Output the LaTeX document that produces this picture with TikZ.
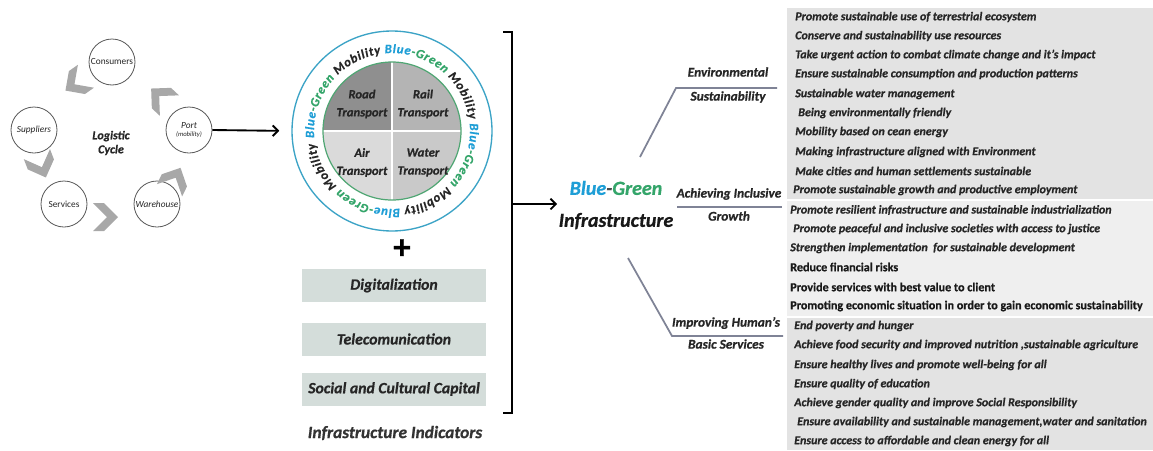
\documentclass[tikz,border=0pt]{standalone}
\usepackage{fontspec}
\setmainfont{Carlito}[BoldFeatures={FakeBold=0.7}, BoldItalicFeatures={FakeBold=0.7}]
\usetikzlibrary{decorations.text,arrows.meta}
\definecolor{bgblue}{HTML}{1E9ED6}
\definecolor{bggreen}{HTML}{34A56A}
\definecolor{ringblue}{HTML}{3BA3C6}
\definecolor{innergreen}{HTML}{4FA673}
\definecolor{qTL}{HTML}{8F8F8F}
\definecolor{qTR}{HTML}{B4B4B4}
\definecolor{qBL}{HTML}{DADADA}
\definecolor{qBR}{HTML}{C9C9C9}
\definecolor{indfill}{HTML}{D4DDDA}
\definecolor{branchgray}{HTML}{7F8396}
\definecolor{listA}{HTML}{E3E3E3}
\definecolor{listB}{HTML}{EFEFEF}
\definecolor{chevgray}{HTML}{A8A8A8}
\newcommand\ringfont{\fontsize{9.5}{9.5}\selectfont\bfseries\itshape}
\tikzset{
  cyc/.style={circle, draw=black!65, line width=0.6pt, fill=white, minimum size=34.5pt, inner sep=0pt, align=center, text=black!85, font=\fontsize{7}{7}\selectfont},
  arr/.style={line width=1.4pt, -{Straight Barb[length=4pt,width=8pt]}},
  branch/.style={draw=branchgray, line width=1.3pt},
  blabel/.style={font=\fontsize{10}{10}\selectfont\bfseries\itshape, text=black!85, inner sep=0pt},
  item/.style={anchor=west, inner sep=0pt, font=\fontsize{9}{9}\selectfont\bfseries\itshape, text=black!85},
  itemup/.style={anchor=west, inner sep=0pt, font=\fontsize{9.1}{9}\selectfont\bfseries, text=black!90},
  indbox/.style={fill=indfill, minimum width=138pt, minimum height=24.75pt, inner sep=0pt, font=\fontsize{11.8}{11.8}\selectfont\bfseries\itshape, text=black!85},
  qtext/.style={align=center, font=\fontsize{9.5}{13.5}\selectfont\bfseries\itshape, text=black!85},
  chev/.pic={\fill[chevgray] (8,0) -- (-6,14) -- (-17,14) -- (-3,0) -- (-17,-14) -- (-6,-14) -- cycle;}
}
\begin{document}
\begin{tikzpicture}[x=0.75pt,y=0.75pt]
\useasboundingbox (0,0) rectangle (1153,-450);
\fill[white] (0,0) rectangle (1153,-450);

% ---------------- Logistic cycle ----------------
\node[cyc] (cons) at (112,-62) {Consumers};
\node[cyc, font=\fontsize{7}{7}\selectfont\itshape] (supp) at (34,-130) {Suppliers};
\node[cyc, font=\fontsize{7}{7}\selectfont\itshape] (port) at (189,-130) {Port\\[-1pt]{\fontsize{5}{5}\selectfont(mobility)}};
\node[cyc] (serv) at (64,-204) {Services};
\node[cyc, font=\fontsize{7}{7}\selectfont\itshape] (ware) at (157,-204) {Warehouse};
\node[align=center, font=\fontsize{9}{10.5}\selectfont\bfseries\itshape, text=black!85] (logc) at (111,-143) {Logistic\\Cycle};
\pic[rotate=215] at (72,-86) {chev};
\pic[rotate=291] at (43,-170) {chev};
\pic[rotate=0] at (110,-217) {chev};
\pic[rotate=64] at (177,-175) {chev};
\pic[rotate=137] at (157,-94) {chev};

% ---------------- Mobility circle ----------------
\coordinate (rc) at (392,-131);
\node[circle, draw=ringblue, line width=1pt, minimum size=150pt, inner sep=0pt] (ring) at (rc) {};
\fill[qTL] (rc) -- ++(180:69) arc[start angle=180, end angle=90, radius=69] -- cycle;
\fill[qTR] (rc) -- ++(90:69) arc[start angle=90, end angle=0, radius=69] -- cycle;
\fill[qBR] (rc) -- ++(0:69) arc[start angle=0, end angle=-90, radius=69] -- cycle;
\fill[qBL] (rc) -- ++(-90:69) arc[start angle=-90, end angle=-180, radius=69] -- cycle;
\draw[white, line width=0.8pt] (rc) ++(-69,0) -- ++(138,0);
\draw[white, line width=0.8pt] (rc) ++(0,69) -- ++(0,-138);
\draw[innergreen, line width=0.9pt] (rc) circle[radius=69];
\node[qtext] (road) at (362,-104) {Road\\Transport};
\node[qtext] (rail) at (423,-104) {Rail\\Transport};
\node[qtext] (air) at (362,-162.5) {Air\\Transport};
\node[qtext] (water) at (423,-162.5) {Water\\Transport};
\path[decorate, decoration={text along path, text align={fit to path},
  text={|\ringfont\color{bgblue}|Blue|\ringfont\color{bggreen}|-Green |\ringfont\color{black!85}|Mobility |\ringfont\color{bgblue}|Blue|\ringfont\color{bggreen}|-Green |\ringfont\color{black!85}|Mobility |\ringfont\color{bgblue}|Blue|\ringfont\color{bggreen}|-Green |\ringfont\color{black!85}|Mobility |\ringfont\color{bgblue}|Blue|\ringfont\color{bggreen}|-Green |\ringfont\color{black!85}|Mobility}}]
  (rc) ++(185:78) arc[start angle=185, end angle=-171, radius=78];

\draw[arr] (port.east) -- (ring.west) [shorten >=9pt];

% ---------------- plus and indicators ----------------
\node[font=\fontsize{26}{26}\selectfont\bfseries] (plus) at (402,-249) {+};
\node[indbox] (digi) at (394,-285.5) {Digitalization};
\node[indbox] (tele) at (394,-339) {Telecomunication};
\node[indbox] (soc) at (394,-389) {Social and Cultural Capital};
\node[font=\fontsize{13}{13}\selectfont\bfseries\itshape, text=black!80] (indic) at (395,-433) {Infrastructure Indicators};

% bracket
\draw[line width=1.4pt] (503,-32) -- (512,-32) -- (512,-413) -- (503,-413);
\coordinate (bmid) at (512,-204);

% ---------------- Blue-Green Infrastructure ----------------
\node[align=center, inner sep=1pt, font=\fontsize{15}{24}\selectfont\bfseries\itshape] (bgi) at (616,-205)
  {{\color{bgblue}Blue}{\color{black!70}-}{\color{bggreen}Green}\\{\fontsize{15}{24}\selectfont\color{black!90}Infrastructure}};
\draw[arr] (bmid) -- (bmid -| bgi.west);

% branches
\coordinate (u0) at (640,-157); \coordinate (u1) at (676,-88); \coordinate (u2) at (777,-88);
\coordinate (m0) at (677,-207); \coordinate (m1) at (782,-207);
\coordinate (l0) at (628,-258); \coordinate (l1) at (672,-336); \coordinate (l2) at (783,-336);
\draw[branch] (u0) -- (u1) -- (u2);
\draw[branch] (m0) -- (m1);
\draw[branch] (l0) -- (l1) -- (l2);
\node[blabel] (envA) at (728,-72) {Environmental};
\node[blabel] (envB) at (728,-97) {Sustainability};
\node[blabel] (achA) at (729,-194) {Achieving Inclusive};
\node[blabel] (achB) at (729,-216) {Growth};
\node[blabel] (impA) at (726,-323) {Improving Human's};
\node[blabel] (impB) at (726,-344) {Basic Services};

% ---------------- lists ----------------
\fill[listA] (787,-8) rectangle (1153,-199);
\fill[listB] (787,-200.5) rectangle (1153,-316);
\fill[listA] (787,-317.5) rectangle (1153,-450);

\node[item] (e1) at (795,-17) {Promote sustainable use of terrestrial ecosystem};
\node[item] (e2) at (795,-36) {Conserve and sustainability use resources};
\node[item] (e3) at (795,-55) {Take urgent action to combat climate change and it's impact};
\node[item] (e4) at (795,-74) {Ensure sustainable consumption and production patterns};
\node[item] (e5) at (795,-94) {Sustainable water management};
\node[item] (e6) at (798,-113) {Being environmentally friendly};
\node[item] (e7) at (795,-132) {Mobility based on cean energy};
\node[item] (e8) at (795,-152) {Making infrastructure aligned with Environment};
\node[item] (e9) at (795,-171) {Make cities and human settlements sustainable};
\node[item] (e10) at (793,-190) {Promote sustainable growth and productive employment};

\node[item] (g1) at (790,-210) {Promote resilient infrastructure and sustainable industrialization};
\node[item] (g2) at (793,-229) {Promote peaceful and inclusive societies with access to justice};
\node[item] (g3) at (790,-248) {Strengthen implementation\ \ for sustainable development};
\node[itemup] (g4) at (790,-267) {Reduce financial risks};
\node[itemup] (g5) at (790,-287) {Provide services with best value to client};
\node[itemup] (g6) at (790,-306) {Promoting economic situation in order to gain economic sustainability};

\node[item] (h1) at (794,-326) {End poverty and hunger};
\node[item] (h2) at (794,-345) {Achieve food security and improved nutrition ,sustainable agriculture};
\node[item] (h3) at (794,-365) {Ensure healthy lives and promote well-being for all};
\node[item] (h4) at (794,-384) {Ensure quality of education};
\node[item] (h5) at (794,-403) {Achieve gender quality and improve Social Responsibility};
\node[item] (h6) at (797,-422) {Ensure availability and sustainable management,water and sanitation};
\node[item] (h7) at (794,-441) {Ensure access to affordable and clean energy for all};
\end{tikzpicture}
\end{document}
